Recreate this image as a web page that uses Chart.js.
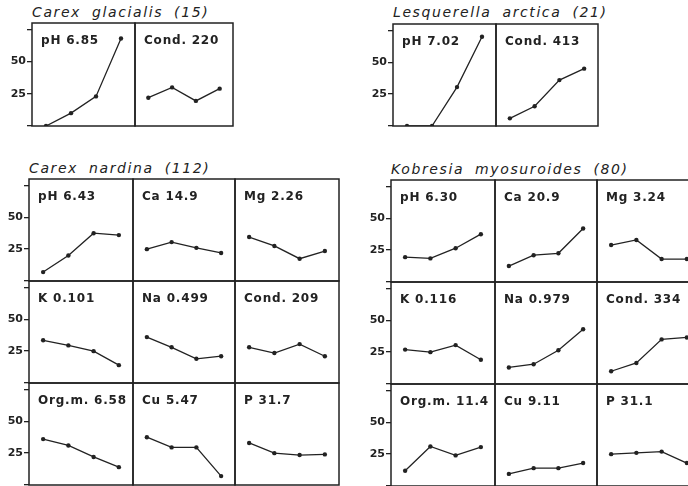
<!DOCTYPE html>
<html>
<head>
<meta charset="utf-8">
<script src="https://cdn.jsdelivr.net/npm/chart.js@4.4.1/dist/chart.umd.min.js"></script>
<style>
  body { margin: 0; width: 688px; height: 486px; overflow: hidden; background: #fff; position: relative; }
  canvas { position: absolute; }
  .ttl { position: absolute; font: italic 14px "DejaVu Sans"; letter-spacing: 1.6px; word-spacing: 5px; color: #222; white-space: nowrap; }
</style>
</head>
<body>
<div class="ttl" style="left:32px;top:4px">Carex glacialis (15)</div>
<div class="ttl" style="left:393px;top:4px">Lesquerella arctica (21)</div>
<div class="ttl" style="left:29px;top:160px">Carex nardina (112)</div>
<div class="ttl" style="left:391px;top:161px">Kobresia myosuroides (80)</div>
<script>
// classes along x, 4 points per panel
const classes = [1, 2, 3, 4];
const yTicks = [0, 25, 50, 75];
const yTickLabels = ['', '25', '50', ''];

const glacialisLabels = ['pH 6.85', 'Cond. 220'];
const glacialisPH = [0, 10, 23, 68];
const glacialisCond = [22, 30, 19.5, 29];

const lesquerellaLabels = ['pH 7.02', 'Cond. 413'];
const lesquerellaPH = [0, 0, 30.5, 70];
const lesquerellaCond = [6, 15.5, 36, 45];

const gridLabelsNardina = ['pH 6.43', 'Ca 14.9', 'Mg 2.26', 'K 0.101', 'Na 0.499', 'Cond. 209', 'Org.m. 6.58', 'Cu 5.47', 'P 31.7'];
const nardinaPH = [7, 20, 37.5, 36];
const nardinaCa = [25, 30.5, 26, 22];
const nardinaMg = [34.5, 27.5, 17.5, 23.5];
const nardinaK = [33.5, 29.5, 25, 14];
const nardinaNa = [36, 28, 19, 21];
const nardinaCond = [28, 23.5, 30.5, 21];
const nardinaOrgm = [36, 31, 22, 14];
const nardinaCu = [37.5, 29.5, 29.5, 7];
const nardinaP = [33, 25, 23.5, 24];

const gridLabelsKobresia = ['pH 6.30', 'Ca 20.9', 'Mg 3.24', 'K 0.116', 'Na 0.979', 'Cond. 334', 'Org.m. 11.4', 'Cu 9.11', 'P 31.1'];
const kobresiaPH = [19.5, 18.5, 26.5, 37.5];
const kobresiaCa = [12.5, 21, 22.5, 42];
const kobresiaMg = [29, 33, 18, 18];
const kobresiaK = [27, 25, 30.5, 19];
const kobresiaNa = [13, 15.5, 26.5, 43];
const kobresiaCond = [10, 16.5, 35, 36.5];
const kobresiaOrgm = [12, 31, 24, 30.5];
const kobresiaCu = [9.5, 14, 14, 18];
const kobresiaP = [25, 26, 27, 18];

const INK = '#222';

// frame + panel caption
const framePlugin = {
  id: 'frame',
  afterDraw(chart, args, opts) {
    const ctx = chart.ctx, a = chart.chartArea;
    ctx.save();
    ctx.strokeStyle = INK;
    ctx.lineWidth = 1.5;
    ctx.strokeRect(a.left, a.top, a.right - a.left, a.bottom - a.top);
    ctx.font = 'bold 12px "DejaVu Sans"';
    ctx.letterSpacing = '0.8px';
    ctx.fillStyle = INK;
    ctx.textBaseline = 'top';
    ctx.fillText(opts.text || '', a.left + 9, a.top + 12);
    ctx.restore();
  }
};

function panel(x, y, w, h, label, values, withAxis) {
  const AX = 34, P = 2;
  const cv = document.createElement('canvas');
  const cw = w + 2 * P + (withAxis ? AX : 0), ch = h + 2 * P;
  cv.width = cw; cv.height = ch;
  cv.style.left = (x - P - (withAxis ? AX : 0)) + 'px';
  cv.style.top = (y - P) + 'px';
  document.body.appendChild(cv);
  new Chart(cv, {
    type: 'line',
    data: {
      labels: classes,
      datasets: [{
        data: values,
        borderColor: INK,
        borderWidth: 1.3,
        backgroundColor: INK,
        pointRadius: 2.2,
        pointBorderWidth: 0,
        tension: 0
      }]
    },
    options: {
      responsive: false,
      animation: false,
      devicePixelRatio: 1,
      layout: { padding: P, autoPadding: false },
      plugins: { legend: { display: false }, tooltip: { enabled: false }, frame: { text: label } },
      scales: {
        x: { type: 'linear', min: 0.44, max: 4.56, display: false },
        y: {
          min: 0, max: 80,
          display: withAxis,
          afterFit: s => {
            if (!withAxis) return;
            s.width = AX;
            s.paddingTop = 0;
            s.paddingBottom = 0;
          },
          afterBuildTicks: s => { s.ticks = yTicks.map(v => ({ value: v })); },
          border: { display: false },
          grid: { drawOnChartArea: false, tickLength: 5, color: INK, lineWidth: 1.3 },
          ticks: {
            padding: 1,
            color: INK,
            font: { family: 'DejaVu Sans', size: 11, weight: 'bold' },
            callback: (v, i) => yTickLabels[i]
          }
        }
      }
    },
    plugins: [framePlugin]
  });
}

// top row, two panels per species
panel(32, 23, 103, 103, glacialisLabels[0], glacialisPH, true);
panel(135, 23, 98, 103, glacialisLabels[1], glacialisCond, false);
panel(393, 24, 103, 102, lesquerellaLabels[0], lesquerellaPH, true);
panel(496, 24, 102, 102, lesquerellaLabels[1], lesquerellaCond, false);

// 3x3 grids
const nardinaSeries = [nardinaPH, nardinaCa, nardinaMg, nardinaK, nardinaNa, nardinaCond, nardinaOrgm, nardinaCu, nardinaP];
const kobresiaSeries = [kobresiaPH, kobresiaCa, kobresiaMg, kobresiaK, kobresiaNa, kobresiaCond, kobresiaOrgm, kobresiaCu, kobresiaP];

function grid(x0, y0, labels, series) {
  const colX = [0, 104, 206], colW = [104, 102, 104];
  for (let i = 0; i < 9; i++) {
    const r = Math.floor(i / 3), c = i % 3;
    panel(x0 + colX[c], y0 + r * 102, colW[c], 102, labels[i], series[i], c === 0);
  }
}
grid(29, 179, gridLabelsNardina, nardinaSeries);
grid(391, 180, gridLabelsKobresia, kobresiaSeries);
</script>
</body>
</html>
